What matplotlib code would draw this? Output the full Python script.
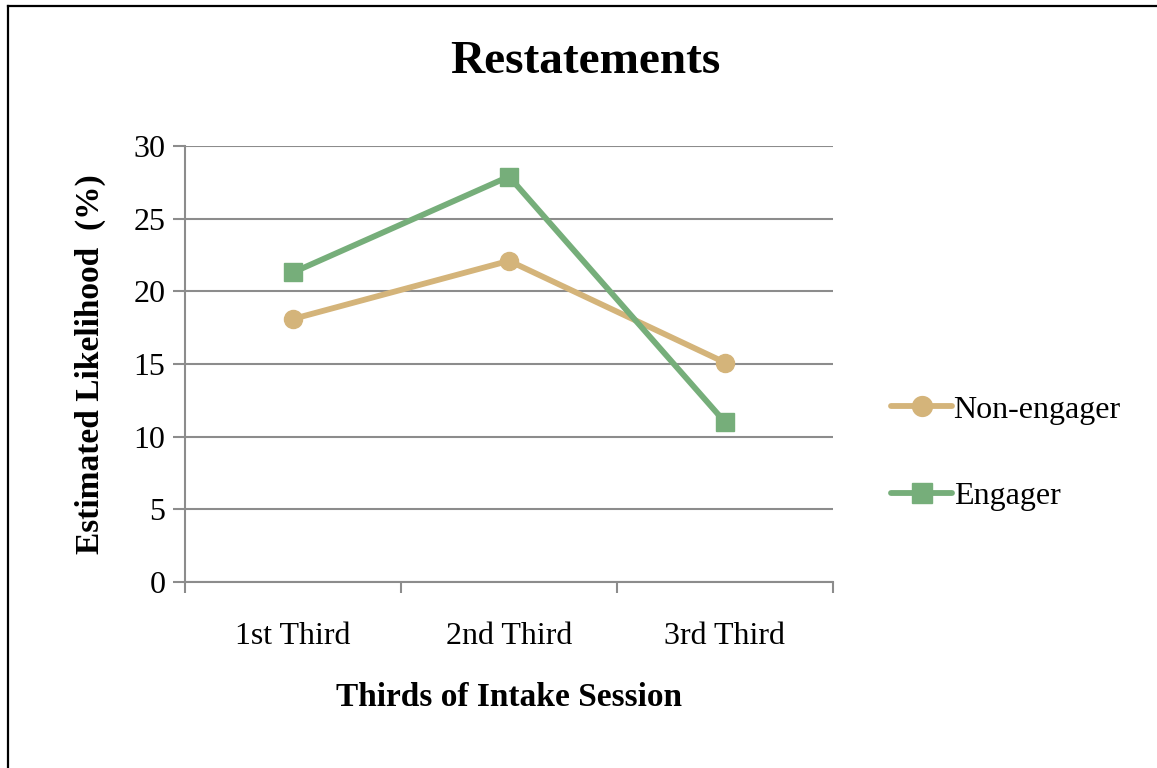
import matplotlib.pyplot as plt
from matplotlib.lines import Line2D

# Restatement likelihood by thirds of the intake session
thirds = ["1st Third", "2nd Third", "3rd Third"]
non_engager = [18.1, 22.1, 15.1]
engager = [21.3, 27.9, 11.0]

tan = "#D4B47A"
green = "#76AE7A"
grey = "#8C8C8C"

plt.rcParams["font.family"] = ["Liberation Serif", "DejaVu Serif"]

fig = plt.figure(figsize=(11.57, 7.68), dpi=100)
ax = fig.add_axes([185 / 1157, 1 - 582 / 768, 648 / 1157, 436 / 768])

xs = [i + 0.5 for i in range(len(thirds))]
ax.plot(xs, non_engager, color=tan, lw=4.2, marker="o", ms=13,
        label="Non-engager", solid_capstyle="round")
ax.plot(xs, engager, color=green, lw=4.2, marker="s", ms=13,
        label="Engager", solid_capstyle="round")

ax.set_xlim(0, 3)
ax.set_ylim(0, 30)
ax.set_yticks(range(0, 31, 5))
ax.set_xticks([0, 1, 2, 3])
ax.set_xticklabels([])
ax.set_xticks(xs, minor=True)
ax.set_xticklabels(thirds, minor=True, fontsize=23)
ax.tick_params(axis="x", which="minor", length=0, pad=29)
ax.tick_params(axis="x", which="major", length=8, width=1.5, color=grey)
ax.tick_params(axis="y", length=9, width=1.5, color=grey, labelsize=23, pad=5)

ax.yaxis.grid(True, color=grey, lw=1.5)
ax.set_axisbelow(True)
for side in ["top", "right"]:
    ax.spines[side].set_visible(False)
for side in ["left", "bottom"]:
    ax.spines[side].set_color(grey)
    ax.spines[side].set_linewidth(1.5)

fig.text(585 / 1157, 1 - 62 / 768, "Restatements", fontsize=34, fontweight="bold",
         ha="center", va="center")
ax.set_xlabel("Thirds of Intake Session", fontsize=24, fontweight="bold", labelpad=22)
ax.set_ylabel("Estimated Likelihood  (%)", fontsize=24, fontweight="bold", labelpad=20)

ax.legend(loc="center left", bbox_to_anchor=(1.09, 0.295), frameon=False,
          borderaxespad=0, borderpad=0, fontsize=23, handlelength=1.9,
          handletextpad=0.05, labelspacing=1.8, markerscale=1.1)

# outer frame along the top and left edges
fig.add_artist(Line2D([8 / 1157, 8 / 1157], [0, 1 - 6 / 768], color="black", lw=1.6))
fig.add_artist(Line2D([8 / 1157, 1], [1 - 6 / 768, 1 - 6 / 768], color="black", lw=1.6))

fig.savefig("out.png", dpi=100)
